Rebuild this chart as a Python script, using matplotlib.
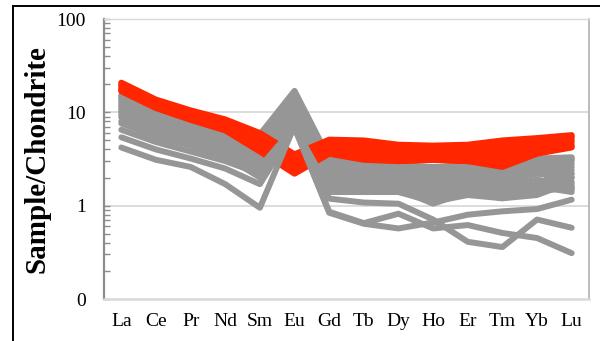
import numpy as np
import matplotlib
matplotlib.use('Agg')
import matplotlib.pyplot as plt
from matplotlib.ticker import LogLocator, FixedLocator, FuncFormatter, NullFormatter
from matplotlib.patches import Rectangle

# REE order
elements = ['La', 'Ce', 'Pr', 'Nd', 'Sm', 'Eu', 'Gd', 'Tb', 'Dy', 'Ho', 'Er', 'Tm', 'Yb', 'Lu']

# red group (chondrite normalised)
red_1 = [20.8, 13.7, 10.5, 8.4, 6.0, 3.55, 5.1, 5.0, 4.5, 4.4, 4.5, 5.0, 5.3, 5.7]
red_2 = [20.1, 13.3, 10.1, 8.1, 5.7, 3.35, 4.9, 4.7, 4.3, 4.2, 4.3, 4.7, 5.1, 5.5]
red_3 = [19.4, 12.9, 9.8, 7.8, 5.3, 3.1, 4.6, 4.4, 4.1, 4.0, 4.1, 4.4, 4.9, 5.3]
red_4 = [18.8, 12.5, 9.5, 7.5, 5.0, 2.85, 4.4, 4.0, 3.8, 3.8, 3.8, 4.0, 4.6, 5.0]
red_5 = [18.2, 12.0, 9.1, 7.2, 4.6, 2.6, 4.1, 3.7, 3.5, 3.5, 3.5, 3.6, 4.3, 4.8]
red_6 = [17.6, 11.6, 8.8, 6.9, 4.3, 2.4, 3.9, 3.4, 3.2, 3.3, 3.2, 3.2, 4.0, 4.5]
red_7 = [17.1, 11.3, 8.5, 6.6, 4.0, 2.25, 3.7, 3.2, 3.0, 3.1, 3.0, 2.9, 3.8, 4.3]
red_8 = [16.8, 11.1, 8.3, 6.4, 3.8, 2.2, 3.6, 3.1, 3.0, 3.1, 3.0, 2.6, 3.6, 4.2]

# grey group, main band
grey_01 = [15.3, 10.3, 7.7, 6.0, 5.8, 17.0, 3.2, 2.8, 2.7, 2.6, 2.7, 2.3, 3.2, 3.3]
grey_02 = [15.0, 10.1, 7.5, 5.8, 5.6, 15.5, 3.0, 2.7, 2.6, 2.5, 2.6, 2.3, 3.1, 3.2]
grey_03 = [14.5, 9.9, 7.3, 5.6, 5.4, 14.0, 2.9, 2.6, 2.5, 2.4, 2.6, 2.2, 3.0, 3.1]
grey_04 = [14.0, 9.7, 7.2, 5.4, 5.2, 13.0, 2.8, 2.5, 2.4, 2.3, 2.5, 2.2, 2.9, 3.0]
grey_05 = [13.5, 9.4, 7.0, 5.2, 4.9, 12.0, 2.7, 2.4, 2.3, 2.2, 2.4, 2.1, 2.8, 2.8]
grey_06 = [13.0, 9.1, 6.8, 5.0, 4.6, 11.0, 2.6, 2.3, 2.2, 2.1, 2.3, 2.0, 2.6, 2.6]
grey_07 = [12.5, 8.8, 6.6, 4.8, 4.3, 10.3, 2.5, 2.2, 2.2, 2.0, 2.2, 1.9, 2.5, 2.4]
grey_08 = [12.0, 8.5, 6.4, 4.6, 4.0, 9.6, 2.4, 2.2, 2.1, 1.9, 2.1, 1.9, 2.4, 2.2]
grey_09 = [11.6, 8.2, 6.2, 4.4, 3.8, 9.0, 2.3, 2.1, 2.0, 1.8, 2.0, 1.8, 2.2, 2.0]
grey_10 = [11.2, 8.0, 6.0, 4.3, 3.6, 8.5, 2.2, 2.0, 1.9, 1.7, 1.9, 1.7, 2.4, 1.5]
grey_11 = [10.8, 7.8, 5.8, 4.2, 3.5, 8.1, 2.1, 1.9, 1.8, 1.6, 1.8, 1.6, 1.9, 1.6]
grey_12 = [10.4, 7.5, 5.6, 4.0, 3.3, 7.7, 2.0, 1.8, 1.8, 1.5, 1.7, 1.5, 1.8, 1.5]
grey_13 = [10.0, 7.2, 5.4, 3.9, 3.1, 7.4, 1.9, 1.8, 1.7, 1.4, 1.6, 1.4, 1.6, 1.4]
grey_14 = [9.6, 7.0, 5.2, 3.7, 2.9, 7.1, 1.8, 1.7, 1.6, 1.3, 1.5, 1.3, 1.35, 2.2]
grey_15 = [9.2, 6.8, 5.0, 3.6, 2.7, 6.9, 1.7, 1.6, 1.6, 1.2, 1.5, 1.3, 1.4, 1.6]
grey_16 = [8.8, 6.5, 4.8, 3.5, 2.5, 6.8, 1.6, 1.6, 1.5, 1.05, 1.4, 1.2, 1.3, 1.8]

# grey group, separate low samples
grey_17 = [7.6, 5.5, 4.4, 3.3, 2.6, 7.0, 1.5, 1.5, 1.5, 1.3, 1.5, 1.3, 1.6, 1.7]
grey_18 = [6.5, 4.8, 3.8, 3.0, 2.2, 6.9, 1.4, 1.4, 1.4, 1.1, 1.3, 1.2, 1.8, 2.0]
grey_19 = [5.4, 4.0, 3.2, 2.5, 1.7, 6.8, 1.19, 1.08, 1.05, 0.71, 0.41, 0.36, 0.71, 0.58]
grey_20 = [4.2, 3.1, 2.6, 1.7, 0.95, 7.2, 0.86, 0.65, 0.82, 0.57, 0.62, 0.51, 0.45, 0.31]
grey_21 = [8.0, 5.8, 4.5, 3.4, 2.0, 6.8, 0.84, 0.64, 0.57, 0.66, 0.80, 0.87, 0.92, 1.16]

grey_main = [grey_01, grey_02, grey_03, grey_04, grey_05, grey_06, grey_07, grey_08,
             grey_09, grey_10, grey_11, grey_12, grey_13, grey_14, grey_15, grey_16]
grey_low = [grey_17, grey_18, grey_19, grey_20, grey_21]
red_group = [red_1, red_2, red_3, red_4, red_5, red_6, red_7, red_8]

ytick_vals = [0.1, 1, 10, 100]
ytick_text = ['0', '1', '10', '100']

RED = '#ff2600'
GREY = '#969696'
LW = 4.3

plt.rcParams['font.family'] = ['Liberation Serif', 'DejaVu Serif']

fig = plt.figure(figsize=(6.0, 3.41), dpi=100)
ax = fig.add_axes([104 / 600, 1 - 299 / 341, 485 / 600, 280 / 341])

x = np.arange(len(elements))
style = dict(lw=LW, solid_joinstyle='round', solid_capstyle='round')

for row in grey_main:
    ax.plot(x, row, color=GREY, zorder=2, **style)
for row in red_group:
    ax.plot(x, row, color=RED, zorder=3, **style)
for row in grey_low:
    ax.plot(x, row, color=GREY, zorder=4, **style)

ax.set_yscale('log')
ax.set_ylim(0.1, 100)
ax.set_xlim(-0.5, len(elements) - 0.5)

ax.yaxis.set_major_locator(FixedLocator(ytick_vals))
ax.yaxis.set_major_formatter(FuncFormatter(lambda v, p: ytick_text[ytick_vals.index(v)] if v in ytick_vals else ''))
ax.yaxis.set_minor_locator(LogLocator(base=10, subs=np.arange(2, 10)))
ax.yaxis.set_minor_formatter(NullFormatter())

ax.set_xticks(x)
ax.set_xticklabels(elements)

ax.tick_params(axis='x', length=0, pad=10, labelsize=14)
ax.tick_params(axis='y', which='major', direction='in', length=4, width=1,
               color='#8c8c8c', pad=13, labelsize=14)
ax.tick_params(axis='y', which='minor', direction='in', length=4, width=1,
               color='#8c8c8c')

# gridlines at the decades
for v in [1, 10]:
    ax.axhline(v, color='#d9d9d9', lw=1.3, zorder=1)

ax.spines['left'].set_color('#8c8c8c')
ax.spines['left'].set_linewidth(1.6)
ax.spines['bottom'].set_color('#d9d9d9')
ax.spines['bottom'].set_linewidth(1.8)
ax.spines['top'].set_color('#d9d9d9')
ax.spines['top'].set_linewidth(1.0)
ax.spines['right'].set_color('#b0b0b0')
ax.spines['right'].set_linewidth(1.2)

ax.set_ylabel('Sample/Chondrite', fontsize=21, fontweight='bold', va='center')
ax.yaxis.set_label_coords((37 - 104) / 485, 0.5)

# outer chart frame, cut off at the right and bottom
fig.patches.append(Rectangle((13 / 600, -0.2), 1.2, 1.2 - 6 / 341, transform=fig.transFigure,
                             fill=False, edgecolor='black', lw=1.4))

fig.savefig('out.png', dpi=100)
